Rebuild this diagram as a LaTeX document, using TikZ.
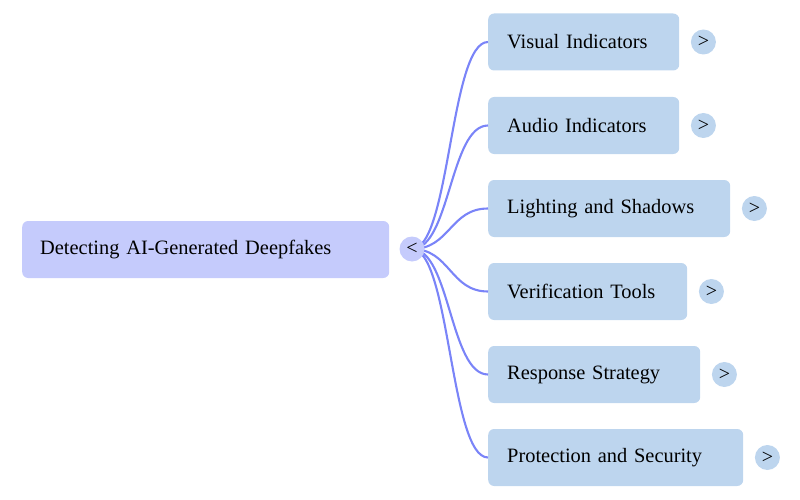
\documentclass[tikz,border=0pt]{standalone}
\usepackage{fontspec}
\setmainfont{Liberation Serif}
\definecolor{rootfill}{RGB}{197,203,252}
\definecolor{childfill}{RGB}{189,213,238}
\definecolor{linkcol}{RGB}{122,132,248}
\tikzset{
  rootbox/.style={fill=rootfill, rounded corners=6pt, anchor=west, minimum height=57pt, inner xsep=18pt, inner ysep=0pt, text width=#1, align=left, font=\fontsize{20.4}{24}\selectfont},
  childbox/.style={fill=childfill, rounded corners=6pt, anchor=west, minimum height=57pt, inner xsep=19pt, inner ysep=0pt, text width=#1, align=left, font=\fontsize{20.4}{24}\selectfont},
  toggle/.style={circle, minimum size=25pt, inner sep=0pt, font=\fontsize{20}{24}\selectfont},
  link/.style={draw=linkcol, line width=2.1pt}
}
\begin{document}
\begin{tikzpicture}[x=1pt,y=-1pt]
\useasboundingbox (0,0) rectangle (800,500);
\node[rootbox=331pt] (root) at (22,249.5) {Detecting AI-Generated Deepfakes};
\node[childbox=153pt] (c1) at (488,42) {Visual Indicators};
\node[childbox=153pt] (c2) at (488,125.5) {Audio Indicators};
\node[childbox=204pt] (c3) at (488,208.5) {Lighting and Shadows};
\node[childbox=161pt] (c4) at (488,291.5) {Verification Tools};
\node[childbox=174pt] (c5) at (488,374.5) {Response Strategy};
\node[childbox=217pt] (c6) at (488,457.5) {Protection and Security};
\coordinate (s) at (412,249);
\foreach \c in {c1,c2,c3,c4,c5,c6}{
  \draw[link] (s) .. controls +(38,0) and +(-38,0) .. (\c.west);
}
\node[toggle, fill=rootfill] (t0) at (s) {<};
\node[toggle, fill=childfill] (t1) at ([xshift=24pt]c1.east) {>};
\node[toggle, fill=childfill] (t2) at ([xshift=24pt]c2.east) {>};
\node[toggle, fill=childfill] (t3) at ([xshift=24pt]c3.east) {>};
\node[toggle, fill=childfill] (t4) at ([xshift=24pt]c4.east) {>};
\node[toggle, fill=childfill] (t5) at ([xshift=24pt]c5.east) {>};
\node[toggle, fill=childfill] (t6) at ([xshift=24pt]c6.east) {>};
\end{tikzpicture}
\end{document}
